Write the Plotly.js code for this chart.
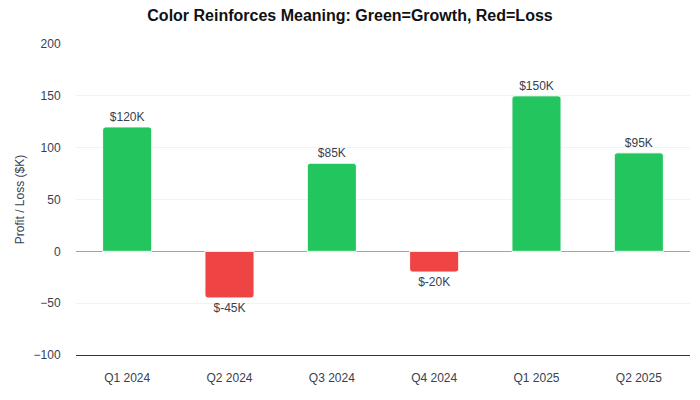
<!DOCTYPE html>
<html><head><meta charset="utf-8">
<script src="https://cdn.plot.ly/plotly-3.0.1.min.js"></script>
<style>html,body{margin:0;padding:0;background:#fff}#c{width:700px;height:400px}</style>
</head><body><div id="c"></div>
<script>
const quarters = ["Q1 2024","Q2 2024","Q3 2024","Q4 2024","Q1 2025","Q2 2025"];
const profit = [120, -45, 85, -20, 150, 95];
const labels = profit.map(v => "$" + v + "K");
const colors = profit.map(v => v >= 0 ? "#22c55e" : "#ef4444");

Plotly.newPlot("c", [{
  type: "bar",
  x: quarters,
  y: profit,
  text: labels,
  textposition: "outside",
  cliponaxis: false,
  textfont: {family: "Liberation Sans, Arial, sans-serif", size: 12, color: "#374151"},
  marker: {color: colors, line: {color: "#ffffff", width: 1}, cornerradius: 3},
  hoverinfo: "none"
}], {
  width: 700, height: 400,
  margin: {l: 76, r: 10, t: 44, b: 45},
  paper_bgcolor: "#fff", plot_bgcolor: "#fff",
  bargap: 0.52,
  font: {family: "Liberation Sans, Arial, sans-serif", size: 12, color: "#374151"},
  title: {text: "<b>Color Reinforces Meaning: Green=Growth, Red=Loss</b>", x: 0.5, xanchor: "center", y: 0.975, yanchor: "top", font: {size: 16, color: "#111111"}},
  xaxis: {showline: true, linecolor: "#333333", linewidth: 1, tickfont: {size: 12, color: "#374151"}, ticks: "outside", ticklen: 12, tickcolor: "rgba(0,0,0,0)", showgrid: false},
  yaxis: {range: [-100, 200], dtick: 50, gridcolor: "#f2f2f2", zeroline: true, zerolinecolor: "#9ca3af", zerolinewidth: 1,
          ticks: "outside", ticklen: 12, tickcolor: "rgba(0,0,0,0)",
          title: {text: "Profit / Loss ($K)", font: {size: 12, color: "#374151"}, standoff: 6}, tickfont: {size: 12, color: "#374151"}},
  showlegend: false
}, {displayModeBar: false, staticPlot: true});
</script></body></html>
